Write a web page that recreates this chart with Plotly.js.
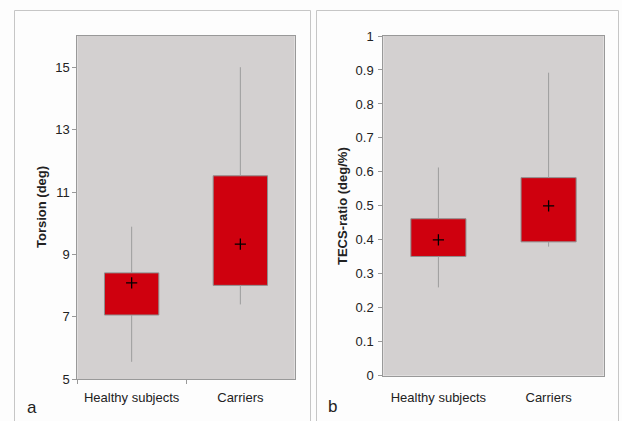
<!DOCTYPE html>
<html>
<head>
<meta charset="utf-8">
<script src="https://cdn.plot.ly/plotly-3.0.1.min.js"></script>
<style>
  html, body { margin: 0; padding: 0; background: #fdfdfd; }
  #chart { width: 622px; height: 421px; }
</style>
</head>
<body>
<div id="chart"></div>
<script>
// ---- data ----
var categories = ['Healthy subjects', 'Carriers'];

var torsionMin  = [5.56, 7.40];
var torsionQ1   = [7.06, 8.01];
var torsionQ3   = [8.41, 11.52];
var torsionMax  = [9.89, 15.0];
var torsionMean = [8.09, 9.33];

var tecsMin  = [0.260, 0.380];
var tecsQ1   = [0.351, 0.394];
var tecsQ3   = [0.462, 0.583];
var tecsMax  = [0.613, 0.892];
var tecsMean = [0.400, 0.500];

var torsionTicks = [5, 7, 9, 11, 13, 15];
var tecsTicks = [0, 0.1, 0.2, 0.3, 0.4, 0.5, 0.6, 0.7, 0.8, 0.9, 1];

// ---- styles ----
var W = 622, H = 421;
var RED = '#cf000e';
var BOXLINE = '#8e8e8e';
var WHISK = '#9c9c9c';
var BG = '#d3d0d0';
var FONT = {family: 'Liberation Sans, Arial, sans-serif', size: 13, color: '#222'};

function whiskers(mins, q1, q3, maxs, xa, ya) {
  var xs = [], ys = [];
  for (var i = 0; i < categories.length; i++) {
    xs.push(categories[i], categories[i], null, categories[i], categories[i], null);
    ys.push(mins[i], q1[i], null, q3[i], maxs[i], null);
  }
  return {type: 'scatter', mode: 'lines', x: xs, y: ys, xaxis: xa, yaxis: ya,
          line: {color: WHISK, width: 1}, connectgaps: false, hoverinfo: 'skip', showlegend: false};
}
function boxes(q1, q3, xa, ya) {
  return {type: 'bar', x: categories, y: q3.map(function (v, i) { return v - q1[i]; }), base: q1,
          width: 0.5, xaxis: xa, yaxis: ya,
          marker: {color: RED, line: {color: BOXLINE, width: 1}}, showlegend: false};
}
function means(m, xa, ya) {
  return {type: 'scatter', mode: 'markers', x: categories, y: m, xaxis: xa, yaxis: ya,
          marker: {symbol: 'cross-thin', size: 8, line: {color: '#000', width: 1.3}}, showlegend: false};
}

var data = [
  boxes(torsionQ1, torsionQ3, 'x', 'y'),
  whiskers(torsionMin, torsionQ1, torsionQ3, torsionMax, 'x', 'y'),
  means(torsionMean, 'x', 'y'),
  boxes(tecsQ1, tecsQ3, 'x2', 'y2'),
  whiskers(tecsMin, tecsQ1, tecsQ3, tecsMax, 'x2', 'y2'),
  means(tecsMean, 'x2', 'y2')
];

function px(x) { return x / W; }
function py(y) { return (H - y) / H; }

var layout = {
  width: W, height: H,
  margin: {l: 0, r: 0, t: 0, b: 0},
  paper_bgcolor: '#fdfdfd',
  plot_bgcolor: BG,
  font: FONT,
  showlegend: false,
  bargap: 0,
  xaxis: {
    domain: [px(77.3), px(294.7)], anchor: 'y',
    type: 'category', range: [-0.5, 1.5],
    showline: true, linecolor: '#999', linewidth: 1, mirror: true,
    ticks: 'outside', tickson: 'boundaries', ticklen: 4, tickcolor: '#999', ticklabelstandoff: 6,
    showgrid: false, zeroline: false, tickfont: FONT
  },
  yaxis: {
    domain: [py(379.3), py(36)], anchor: 'x',
    range: [5, 16], tickvals: torsionTicks,
    showline: true, linecolor: '#999', linewidth: 1, mirror: true,
    ticks: 'outside', ticklen: 4, tickcolor: '#999',
    showgrid: false, zeroline: false, tickfont: FONT
  },
  xaxis2: {
    domain: [px(383.3), px(603.7)], anchor: 'y2',
    type: 'category', range: [-0.5, 1.5],
    showline: true, linecolor: '#999', linewidth: 1, mirror: true,
    ticks: '', ticklabelstandoff: 10,
    showgrid: false, zeroline: false, tickfont: FONT
  },
  yaxis2: {
    domain: [py(375.7), py(36)], anchor: 'x2',
    range: [0, 1], tickvals: tecsTicks, ticktext: tecsTicks.map(String),
    showline: true, linecolor: '#999', linewidth: 1, mirror: true,
    ticks: 'outside', ticklen: 4, tickcolor: '#999', ticklabelstandoff: 2,
    showgrid: false, zeroline: false, tickfont: FONT
  },
  shapes: [
    {type: 'rect', xref: 'paper', yref: 'paper', x0: px(14.5), x1: px(310.5), y0: -0.05, y1: py(10.5),
     line: {color: '#c6c6c6', width: 1}, fillcolor: 'rgba(0,0,0,0)', layer: 'below'},
    {type: 'rect', xref: 'paper', yref: 'paper', x0: px(316.5), x1: px(618.5), y0: -0.05, y1: py(10.5),
     line: {color: '#c6c6c6', width: 1}, fillcolor: 'rgba(0,0,0,0)', layer: 'below'}
  ],
  annotations: [
    {text: '<b>Torsion (deg)</b>', xref: 'paper', yref: 'paper', x: px(41.5), y: py(207.5),
     textangle: -90, showarrow: false, font: {family: FONT.family, size: 13, color: '#222'},
     xanchor: 'center', yanchor: 'middle'},
    {text: '<b>TECS-ratio (deg/%)</b>', xref: 'paper', yref: 'paper', x: px(343), y: py(206),
     textangle: -90, showarrow: false, font: {family: FONT.family, size: 13, color: '#222'},
     xanchor: 'center', yanchor: 'middle'},
    {text: 'a', xref: 'paper', yref: 'paper', x: px(31.5), y: py(407), showarrow: false,
     font: {family: FONT.family, size: 17, color: '#222'}, xanchor: 'center', yanchor: 'middle'},
    {text: 'b', xref: 'paper', yref: 'paper', x: px(332.5), y: py(406), showarrow: false,
     font: {family: FONT.family, size: 17, color: '#222'}, xanchor: 'center', yanchor: 'middle'}
  ]
};

Plotly.newPlot('chart', data, layout, {displayModeBar: false, staticPlot: true});
</script>
</body>
</html>
